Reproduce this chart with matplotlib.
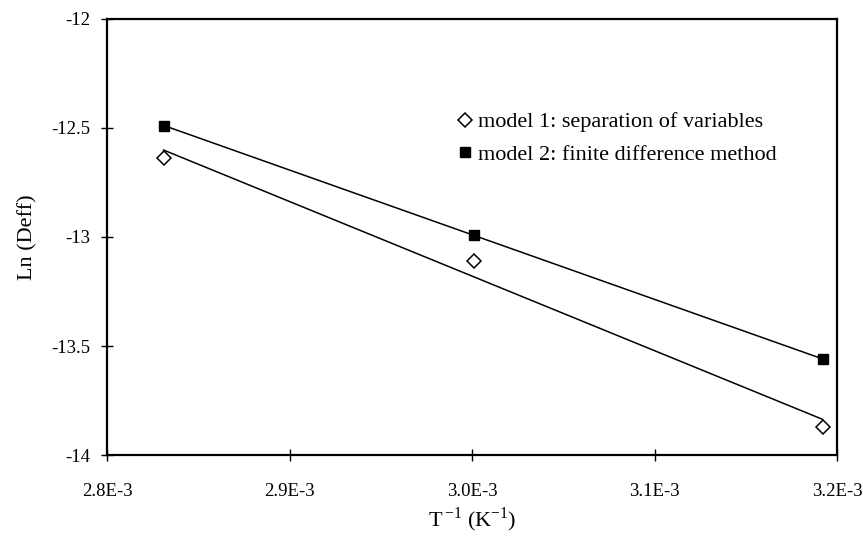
import numpy as np
import matplotlib
matplotlib.use("Agg")
import matplotlib.pyplot as plt

# data
inv_T = [2.831e-3, 3.001e-3, 3.192e-3]
ln_deff_model1 = [-12.64, -13.11, -13.87]
ln_deff_model2 = [-12.49, -12.99, -13.56]

x_ticks = [2.8e-3, 2.9e-3, 3.0e-3, 3.1e-3, 3.2e-3]
x_tick_labels = ["2.8E-3", "2.9E-3", "3.0E-3", "3.1E-3", "3.2E-3"]
y_ticks = [-14, -13.5, -13, -12.5, -12]
y_tick_labels = ["-14", "-13.5", "-13", "-12.5", "-12"]

plt.rcParams['font.family'] = ['Liberation Serif', 'DejaVu Serif']

fig, ax = plt.subplots(figsize=(8.63, 5.38), dpi=100)
fig.subplots_adjust(left=0.124, right=0.970, top=0.965, bottom=0.154)

x = np.array(inv_T)
# linear trendlines through each series
for y in (ln_deff_model1, ln_deff_model2):
    k, b = np.polyfit(x, y, 1)
    ax.plot(x, k * x + b, color='black', linewidth=1.1, zorder=2)

ax.plot(x, ln_deff_model1, linestyle='none', marker='D', markersize=7,
        markerfacecolor='white', markeredgecolor='black', markeredgewidth=1.1,
        label='model 1: separation of variables', zorder=3)
ax.plot(x, ln_deff_model2, linestyle='none', marker='s', markersize=7,
        color='black', label='model 2: finite difference method', zorder=3)

ax.set_xlim(2.8e-3, 3.2e-3)
ax.set_ylim(-14, -12)
ax.set_xticks(x_ticks)
ax.set_xticklabels(x_tick_labels)
ax.set_yticks(y_ticks)
ax.set_yticklabels(y_tick_labels)
ax.tick_params(direction='inout', length=8, width=1, labelsize=13.5, colors='black')
ax.tick_params(axis='x', pad=16)
ax.tick_params(axis='y', pad=8)

for sp in ax.spines.values():
    sp.set_linewidth(1.6)

ax.set_xlabel('T$^{\\,\\mathregular{-1}}$ (K$^{\\mathregular{-1}}$)', fontsize=16, labelpad=4)
ax.set_ylabel('Ln (Deff)', fontsize=16, labelpad=10)

ax.legend(loc='upper left', bbox_to_anchor=(0.481, 0.787), frameon=False,
          fontsize=16, handlelength=0.6, handletextpad=0.3, borderaxespad=0,
          borderpad=0, labelspacing=0.53)

fig.savefig('out.png', dpi=100)
